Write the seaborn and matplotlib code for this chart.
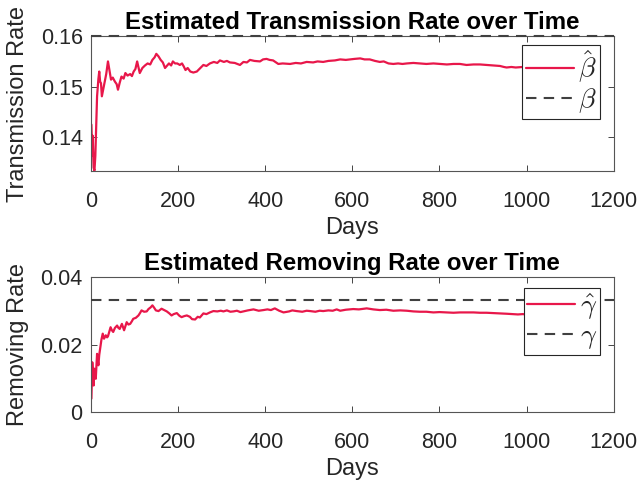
import numpy as np
import pandas as pd
import matplotlib
matplotlib.use("Agg")
import matplotlib.pyplot as plt
import seaborn as sns

# Du lieu doc tu hinh: ngay va gia tri uoc luong
beta_days = [1, 3, 4, 6, 8, 10, 12, 14, 17, 19, 21, 23, 25, 27, 31, 35, 39, 42, 46, 50,
             55, 59, 62, 66, 70, 75, 79, 84, 90, 94, 98, 102, 106, 109, 112, 118, 124, 130,
             136, 141, 146, 150, 155, 160, 165, 170, 175, 179, 184, 188, 193, 198, 204, 209,
             213, 217, 222, 228, 235, 243, 250, 258, 265, 273, 282, 290, 296, 305, 312, 319,
             330, 342, 350, 358, 365, 375, 388, 395, 403, 410, 418, 425, 430, 440, 457, 470,
             482, 495, 510, 520, 533, 545, 560, 572, 585, 595, 605, 618, 628, 640, 652, 663,
             672, 683, 694, 705, 715, 725, 740, 755, 770, 786, 800, 817, 832, 847, 862, 878,
             893, 908, 925, 939, 948, 954, 965, 975, 991, 1000]
beta_hat = [0.1425, 0.1363, 0.1403, 0.1340, 0.1334, 0.1363, 0.1420, 0.1481, 0.1515, 0.1530,
            0.1510, 0.1507, 0.1481, 0.1490, 0.1507, 0.1525, 0.1550, 0.1535, 0.1514, 0.1518,
            0.1510, 0.1505, 0.1494, 0.1508, 0.1520, 0.1516, 0.1527, 0.1522, 0.1525, 0.1521,
            0.1530, 0.1535, 0.1550, 0.1538, 0.1527, 0.1537, 0.1542, 0.1546, 0.1544, 0.1553,
            0.1558, 0.1565, 0.1560, 0.1553, 0.1548, 0.1537, 0.1542, 0.1546, 0.1542, 0.1550,
            0.1546, 0.1546, 0.1543, 0.1546, 0.1540, 0.1533, 0.1537, 0.1530, 0.1528, 0.1530,
            0.1536, 0.1543, 0.1541, 0.1546, 0.1549, 0.1547, 0.1552, 0.1549, 0.1551, 0.1548,
            0.1547, 0.1543, 0.1549, 0.1548, 0.1553, 0.1551, 0.1550, 0.1554, 0.1555, 0.1553,
            0.1552, 0.1548, 0.1545, 0.1546, 0.1545, 0.1547, 0.1546, 0.1549, 0.1548, 0.1550,
            0.1549, 0.1551, 0.1552, 0.1554, 0.1553, 0.1554, 0.1555, 0.1556, 0.1554, 0.1554,
            0.1551, 0.1549, 0.1550, 0.1546, 0.1545, 0.1546, 0.1545, 0.1546, 0.1547, 0.1546,
            0.1545, 0.1546, 0.1545, 0.1544, 0.1545, 0.1545, 0.1543, 0.1544, 0.1544, 0.1543,
            0.1542, 0.1541, 0.1539, 0.1538, 0.1539, 0.1538, 0.1539, 0.1540]

gamma_days = [1, 2, 3, 5, 6, 8, 10, 11, 13, 14, 16, 17, 19, 21, 24, 27, 30, 34, 37, 39,
              42, 45, 48, 51, 55, 60, 63, 66, 71, 76, 79, 82, 86, 90, 94, 97, 103, 109, 113,
              116, 122, 128, 132, 137, 141, 145, 149, 155, 162, 168, 174, 180, 185, 190, 197,
              203, 208, 214, 220, 227, 232, 239, 245, 250, 258, 265, 273, 281, 290, 298, 304,
              312, 320, 327, 335, 343, 350, 360, 373, 385, 396, 405, 413, 422, 432, 442, 455,
              462, 472, 485, 495, 503, 515, 525, 533, 545, 555, 564, 572, 585, 602, 615, 633,
              648, 663, 678, 694, 710, 725, 740, 755, 770, 786, 800, 817, 832, 847, 862, 878,
              893, 908, 925, 939, 955, 969, 980, 991, 1000]
gamma_hat = [0.0040, 0.0095, 0.0148, 0.0100, 0.0079, 0.0129, 0.0110, 0.0099, 0.0150, 0.0173,
             0.0150, 0.0139, 0.0170, 0.0188, 0.0215, 0.0233, 0.0218, 0.0228, 0.0222, 0.0225,
             0.0238, 0.0252, 0.0243, 0.0238, 0.0250, 0.0257, 0.0250, 0.0247, 0.0262, 0.0243,
             0.0255, 0.0267, 0.0260, 0.0262, 0.0270, 0.0277, 0.0280, 0.0287, 0.0295, 0.0302,
             0.0298, 0.0299, 0.0306, 0.0311, 0.0317, 0.0310, 0.0302, 0.0300, 0.0307, 0.0303,
             0.0299, 0.0293, 0.0287, 0.0291, 0.0294, 0.0286, 0.0282, 0.0285, 0.0287, 0.0283,
             0.0276, 0.0275, 0.0283, 0.0281, 0.0293, 0.0291, 0.0296, 0.0300, 0.0299, 0.0301,
             0.0299, 0.0302, 0.0298, 0.0299, 0.0301, 0.0297, 0.0299, 0.0302, 0.0305, 0.0301,
             0.0303, 0.0305, 0.0303, 0.0308, 0.0301, 0.0296, 0.0299, 0.0302, 0.0300, 0.0298,
             0.0301, 0.0300, 0.0298, 0.0301, 0.0300, 0.0302, 0.0301, 0.0305, 0.0301, 0.0304,
             0.0306, 0.0305, 0.0308, 0.0305, 0.0303, 0.0304, 0.0301, 0.0302, 0.0301, 0.0299,
             0.0298, 0.0298, 0.0296, 0.0297, 0.0296, 0.0295, 0.0296, 0.0296, 0.0296, 0.0295,
             0.0295, 0.0294, 0.0293, 0.0292, 0.0291, 0.0290, 0.0291, 0.0290]

beta_true = 0.16
gamma_true = 1 / 30

x_ticks = [0, 200, 400, 600, 800, 1000, 1200]
beta_ticks = [0.14, 0.15, 0.16]
beta_ticklabels = ["0.14", "0.15", "0.16"]
gamma_ticks = [0, 0.02, 0.04]
gamma_ticklabels = ["0", "0.02", "0.04"]

df_beta = pd.DataFrame({"Days": beta_days, "rate": beta_hat})
df_gamma = pd.DataFrame({"Days": gamma_days, "rate": gamma_hat})

# Giao dien giong MATLAB
sns.set_theme(style="ticks")
plt.rcParams["font.family"] = ["Liberation Sans", "DejaVu Sans"]
plt.rcParams["mathtext.fontset"] = "cm"

red = "#E8174A"
dark = "#262626"

fig = plt.figure(figsize=(6.42, 4.82), dpi=100)
ax1 = fig.add_axes([0.1417, 0.645, 0.8143, 0.280])
ax2 = fig.add_axes([0.1417, 0.145, 0.8143, 0.2795])

panels = [
    (ax1, df_beta, beta_true, r"$\hat{\beta}$", r"$\beta$", "Transmission Rate",
     "Estimated Transmission Rate over Time", (0.1333, 0.16), beta_ticks, beta_ticklabels, 0.933),
    (ax2, df_gamma, gamma_true, r"$\hat{\gamma}$", r"$\gamma$", "Removing Rate",
     "Estimated Removing Rate over Time", (0, 0.04), gamma_ticks, gamma_ticklabels, 0.923),
]

for ax, df, true_val, lab_hat, lab_true, ylab, title, ylim, yt, ytl, leg_y in panels:
    sns.lineplot(data=df, x="Days", y="rate", ax=ax, color=red, lw=1.6,
                 estimator=None, label=lab_hat)
    ax.axhline(true_val, color="#404040", lw=1.5, ls=(0, (5, 3.5)), label=lab_true,
               clip_on=False, zorder=3)
    ax.set_xlim(0, 1200)
    ax.set_ylim(*ylim)
    ax.set_xticks(x_ticks)
    ax.set_yticks(yt)
    ax.set_yticklabels(ytl)
    ax.tick_params(axis="both", direction="in", length=4, width=0.6, top=True, right=True,
                   colors=dark, labelsize=15.5)
    ax.tick_params(axis="x", pad=14)
    ax.tick_params(axis="y", pad=6)
    for s in ax.spines.values():
        s.set_color("#555555")
        s.set_linewidth(0.8)
    ax.set_xlabel("Days", fontsize=17, color=dark, labelpad=4)
    ax.set_ylabel(ylab, fontsize=17, color=dark)
    ax.yaxis.set_label_coords(-0.118, 0.5)
    ax.set_title(title, fontsize=17.3, fontweight="bold", color="black", pad=5)
    leg = ax.legend(loc="upper right", bbox_to_anchor=(0.974, leg_y), borderaxespad=0,
                    fontsize=20, handlelength=1.75, handletextpad=0.15, borderpad=0.12,
                    labelspacing=0.05, fancybox=False, framealpha=1, edgecolor=dark)
    leg.get_frame().set_linewidth(0.8)

fig.savefig("out.png", dpi=100)
